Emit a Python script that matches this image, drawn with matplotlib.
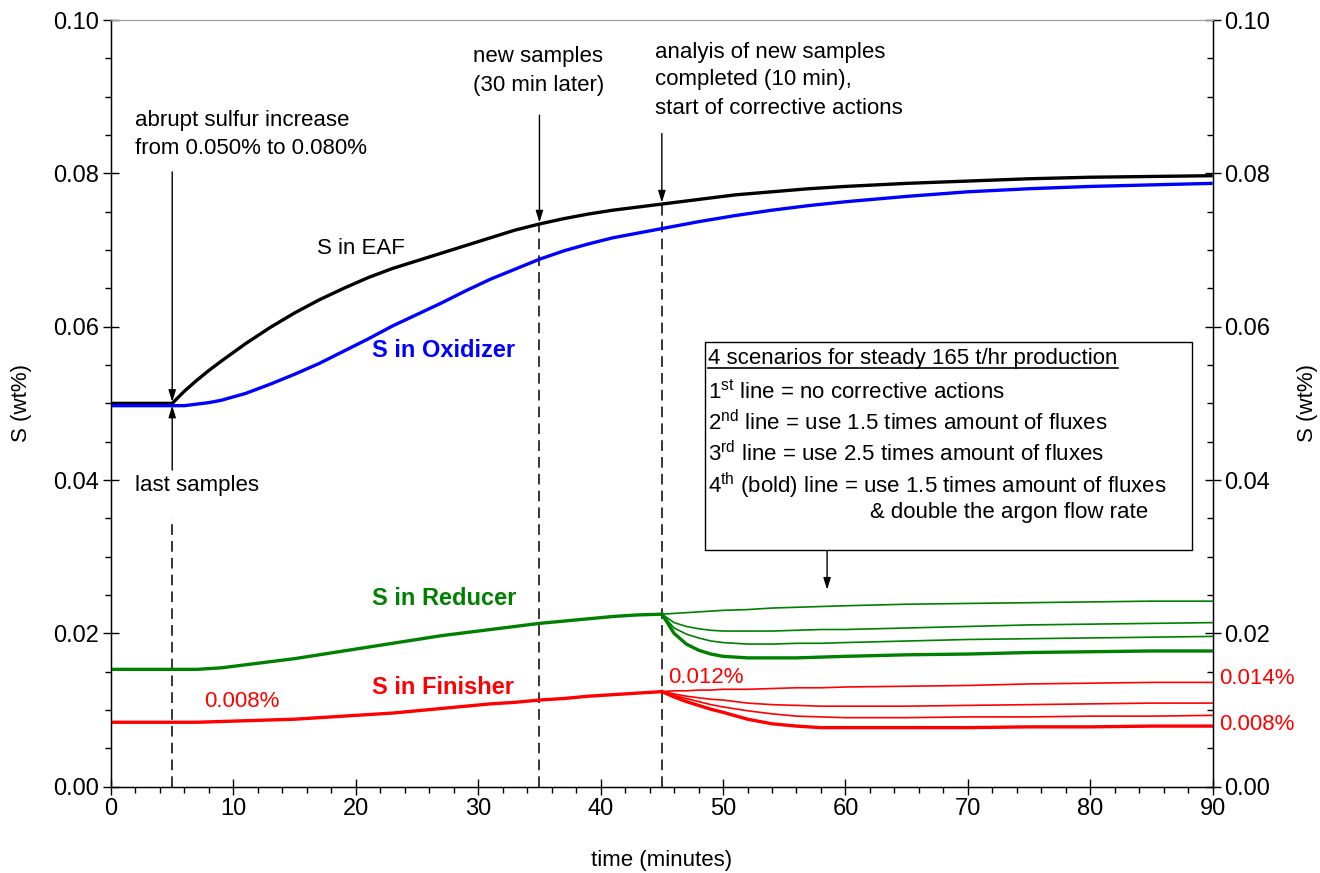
import matplotlib
matplotlib.use("Agg")
import matplotlib.pyplot as plt
from matplotlib.patches import Rectangle
from matplotlib.lines import Line2D
from matplotlib.ticker import MultipleLocator

plt.rcParams['font.family'] = ['Liberation Sans', 'DejaVu Sans']
plt.rcParams['mathtext.fontset'] = 'custom'
plt.rcParams['mathtext.rm'] = 'Liberation Sans'
plt.rcParams['mathtext.it'] = 'Liberation Sans'

# ---------------- data ----------------
t_main = [0, 5, 6, 7, 8, 9, 11, 13, 15, 17, 19, 21, 23, 25, 27, 29, 31, 33, 35, 37, 39, 41, 43, 45,
          48, 51, 54, 57, 60, 65, 70, 75, 80, 85, 90]
s_eaf = [0.0500, 0.0500, 0.0516, 0.0530, 0.0543, 0.0555, 0.0578, 0.0599, 0.0618, 0.0635, 0.0650,
         0.0664, 0.0676, 0.0686, 0.0696, 0.0706, 0.0716, 0.0726, 0.0734, 0.0741, 0.0747, 0.0752,
         0.0756, 0.0760, 0.0766, 0.0772, 0.0776, 0.0780, 0.0783, 0.0787, 0.0790, 0.0793, 0.0795,
         0.0796, 0.0797]
s_oxidizer = [0.0497, 0.0497, 0.0497, 0.0499, 0.0501, 0.0504, 0.0513, 0.0525, 0.0538, 0.0552, 0.0568,
              0.0584, 0.0601, 0.0616, 0.0631, 0.0647, 0.0662, 0.0675, 0.0688, 0.0699, 0.0708, 0.0716,
              0.0722, 0.0728, 0.0737, 0.0745, 0.0752, 0.0758, 0.0763, 0.0770, 0.0776, 0.0780, 0.0783,
              0.0785, 0.0787]

t_pre = [0, 5, 7, 9, 11, 13, 15, 17, 19, 21, 23, 25, 27, 29, 31, 33, 35, 37, 39, 41, 43, 45]
s_reducer_pre = [0.0153, 0.0153, 0.0153, 0.0155, 0.0159, 0.0163, 0.0167, 0.0172, 0.0177, 0.0182, 0.0187,
                 0.0192, 0.0197, 0.0201, 0.0205, 0.0209, 0.0213, 0.0216, 0.0219, 0.0222, 0.0224, 0.0225]
s_finisher_pre = [0.0084, 0.0084, 0.0084, 0.0085, 0.0086, 0.0087, 0.0088, 0.0090, 0.0092, 0.0094, 0.0096,
                  0.0099, 0.0102, 0.0105, 0.0108, 0.0110, 0.0113, 0.0115, 0.0118, 0.0120, 0.0122, 0.0124]

t_post = [45, 46, 47, 48, 49, 50, 52, 54, 56, 58, 60, 65, 70, 75, 80, 85, 90]
reducer_sc1 = [0.0225, 0.0226, 0.0227, 0.0228, 0.0229, 0.0230, 0.0231, 0.0233, 0.0234, 0.0235, 0.0236,
               0.0238, 0.0239, 0.0240, 0.0241, 0.0242, 0.0242]
reducer_sc2 = [0.0225, 0.0214, 0.0209, 0.0206, 0.0204, 0.0203, 0.0203, 0.0203, 0.0204, 0.0205, 0.0205,
               0.0207, 0.0209, 0.0211, 0.0212, 0.0213, 0.0214]
reducer_sc3 = [0.0225, 0.0207, 0.0199, 0.0194, 0.0190, 0.0188, 0.0186, 0.0186, 0.0187, 0.0187, 0.0188,
               0.0190, 0.0192, 0.0193, 0.0194, 0.0195, 0.0196]
reducer_sc4 = [0.0225, 0.0200, 0.0186, 0.0178, 0.0173, 0.0170, 0.0168, 0.0168, 0.0168, 0.0169, 0.0170,
               0.0172, 0.0173, 0.0175, 0.0176, 0.0177, 0.0177]
finisher_sc1 = [0.0124, 0.0125, 0.0125, 0.0126, 0.0126, 0.0127, 0.0127, 0.0128, 0.0129, 0.0129, 0.0130,
                0.0131, 0.0132, 0.0134, 0.0135, 0.0136, 0.0136]
finisher_sc2 = [0.0124, 0.0121, 0.0118, 0.0116, 0.0114, 0.0113, 0.0109, 0.0107, 0.0106, 0.0105, 0.0105,
                0.0105, 0.0106, 0.0107, 0.0108, 0.0109, 0.0109]
finisher_sc3 = [0.0124, 0.0119, 0.0115, 0.0111, 0.0107, 0.0104, 0.0099, 0.0095, 0.0092, 0.0091, 0.0090,
                0.0090, 0.0091, 0.0091, 0.0092, 0.0092, 0.0093]
finisher_sc4 = [0.0124, 0.0117, 0.0111, 0.0106, 0.0101, 0.0097, 0.0088, 0.0082, 0.0079, 0.0077, 0.0077,
                0.0077, 0.0077, 0.0078, 0.0078, 0.0079, 0.0079]

x_ticks = [0, 10, 20, 30, 40, 50, 60, 70, 80, 90]
y_ticks = [0.00, 0.02, 0.04, 0.06, 0.08, 0.10]
y_ticklabels = ["0.00", "0.02", "0.04", "0.06", "0.08", "0.10"]

GREEN = '#008000'
RED = '#ff0000'
BLUE = '#0000ff'
FS = 16
TFS = 17
BFS = 17

fig = plt.figure(figsize=(13.2, 8.73), dpi=100)
ax = fig.add_axes([0.0841, 0.0989, 0.9187 - 0.0841, 0.977 - 0.0989])
ax.set_xlim(0, 90)
ax.set_ylim(0, 0.10)

# dashed event lines
ax.plot([5, 5], [0, 0.0350], color='black', lw=1.1, ls=(0, (7, 4)))
ax.plot([35, 35], [0, 0.0734], color='black', lw=1.1, ls=(0, (7, 4)))
ax.plot([45, 45], [0, 0.0760], color='black', lw=1.1, ls=(0, (7, 4)))

# main curves
ax.plot(t_main, s_eaf, color='black', lw=2.4, solid_capstyle='butt', zorder=3)
ax.plot(t_main, s_oxidizer, color=BLUE, lw=2.4, solid_capstyle='butt', zorder=3)
ax.plot(t_pre, s_reducer_pre, color=GREEN, lw=2.4, zorder=3)
ax.plot(t_pre, s_finisher_pre, color=RED, lw=2.4, zorder=3)
for ys, lw in [(reducer_sc1, 1.2), (reducer_sc2, 1.2), (reducer_sc3, 1.2), (reducer_sc4, 2.4)]:
    ax.plot(t_post, ys, color=GREEN, lw=lw, zorder=3)
for ys, lw in [(finisher_sc1, 1.2), (finisher_sc2, 1.2), (finisher_sc3, 1.2), (finisher_sc4, 2.4)]:
    ax.plot(t_post, ys, color=RED, lw=lw, zorder=3)

# annotations
aprops = dict(arrowstyle='-|>,head_length=0.7,head_width=0.22', color='black', lw=1.0,
              shrinkA=0, shrinkB=0)
ax.annotate('', xy=(5, 0.0502), xytext=(5, 0.0802), arrowprops=aprops)
ax.annotate('', xy=(5, 0.0497), xytext=(5, 0.0413), arrowprops=aprops)
ax.annotate('', xy=(35, 0.0736), xytext=(35, 0.0876), arrowprops=aprops)
ax.annotate('', xy=(45, 0.0762), xytext=(45, 0.0852), arrowprops=aprops)
ax.annotate('', xy=(58.5, 0.0257), xytext=(58.5, 0.0309), arrowprops=aprops)

def lines(x, ys, texts, **kw):
    for y, s in zip(ys, texts):
        ax.text(x, y, s, fontsize=FS, ha='left', va='center', **kw)

lines(2.0, [0.0869, 0.0833], ['abrupt sulfur increase', 'from 0.050% to 0.080%'])
lines(2.0, [0.0393], ['last samples'])
lines(29.6, [0.0952, 0.0915], ['new samples', '(30 min later)'])
lines(44.4, [0.0958, 0.0922, 0.0885], ['analyis of new samples', 'completed (10 min),',
                                       'start of corrective actions'])

ax.text(20.4, 0.0702, 'S in EAF', fontsize=FS, color='black', ha='center', va='center')
ax.text(27.2, 0.0569, 'S in Oxidizer', fontsize=BFS, color=BLUE, fontweight='bold', ha='center', va='center')
ax.text(27.2, 0.02455, 'S in Reducer', fontsize=BFS, color=GREEN, fontweight='bold', ha='center', va='center')
ax.text(27.1, 0.0130, 'S in Finisher', fontsize=BFS, color=RED, fontweight='bold', ha='center', va='center')
ax.text(10.7, 0.0111, '0.008%', fontsize=FS, color=RED, ha='center', va='center')
ax.text(45.5, 0.01418, '0.012%', fontsize=FS, color=RED, ha='left', va='center')
ax.text(90.5, 0.01414, '0.014%', fontsize=FS, color=RED, ha='left', va='center', clip_on=False)
ax.text(90.5, 0.0081, '0.008%', fontsize=FS, color=RED, ha='left', va='center', clip_on=False)

# scenario box
ax.add_patch(Rectangle((48.5, 0.0309), 88.3 - 48.5, 0.0580 - 0.0309, facecolor='white',
                       edgecolor='black', lw=1.0, zorder=4))
title = ax.text(48.8, 0.0558, '4 scenarios for steady 165 t/hr production', fontsize=FS,
                ha='left', va='center', zorder=5)
ax.text(48.8, 0.0516, r'1$^{\mathrm{st}}$ line = no corrective actions', fontsize=FS, ha='left', va='center', zorder=5)
ax.text(48.8, 0.0475, r'2$^{\mathrm{nd}}$ line = use 1.5 times amount of fluxes', fontsize=FS, ha='left', va='center', zorder=5)
ax.text(48.8, 0.0434, r'3$^{\mathrm{rd}}$ line = use 2.5 times amount of fluxes', fontsize=FS, ha='left', va='center', zorder=5)
ax.text(48.8, 0.0392, r'4$^{\mathrm{th}}$ (bold) line = use 1.5 times amount of fluxes', fontsize=FS, ha='left', va='center', zorder=5)
ax.text(62.0, 0.0357, '& double the argon flow rate', fontsize=FS, ha='left', va='center', zorder=5)

# axes styling
ax.set_xticks(x_ticks)
ax.set_xticklabels([str(v) for v in x_ticks])
ax.xaxis.set_minor_locator(MultipleLocator(2))
ax.set_yticks(y_ticks)
ax.set_yticklabels(y_ticklabels)
ax.yaxis.set_minor_locator(MultipleLocator(0.005))
ax.tick_params(which='major', direction='inout', length=11, width=1.0, labelsize=TFS, pad=3)
ax.tick_params(which='minor', direction='out', length=4.5, width=1.0)
ax.tick_params(top=False, right=False, which='both')
ax.spines['top'].set_color('#a0a0a0')
for s in ['left', 'bottom', 'right']:
    ax.spines[s].set_linewidth(1.0)
ax.set_xlabel('time (minutes)', fontsize=FS, labelpad=21)
ax.set_ylabel('S (wt%)', fontsize=FS, labelpad=15)

ax2 = ax.twinx()
ax2.set_ylim(0, 0.10)
ax2.set_yticks(y_ticks)
ax2.set_yticklabels(y_ticklabels)
ax2.yaxis.set_minor_locator(MultipleLocator(0.005))
ax2.tick_params(which='major', direction='inout', length=11, width=1.0, labelsize=TFS, pad=3)
ax2.tick_params(which='minor', direction='in', length=4.5, width=1.0)
ax2.spines['top'].set_color('#a0a0a0')
ax2.set_ylabel('S (wt%)', fontsize=FS, labelpad=19, rotation=90)

# underline of box title
fig.canvas.draw()
bb = title.get_window_extent()
inv = fig.transFigure.inverted()
(x0, y0) = inv.transform((bb.x0, bb.y0 + 1))
(x1, _) = inv.transform((bb.x1, bb.y0 + 1))
fig.add_artist(Line2D([x0, x1], [y0, y0], color='black', lw=1.2, transform=fig.transFigure, zorder=6))

fig.savefig('out.png', dpi=100)
